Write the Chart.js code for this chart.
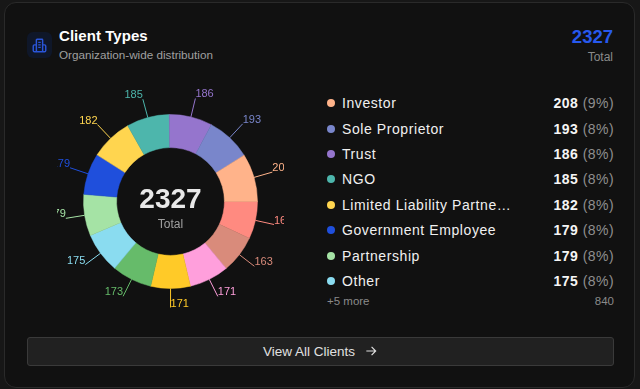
<!DOCTYPE html>
<html>
<head>
<meta charset="utf-8">
<title>Client Types</title>
<script src="https://cdn.jsdelivr.net/npm/chart.js@4"></script>
<style>
  html, body { margin: 0; width: 640px; height: 389px; overflow: hidden; background: #171717; font-family: "Liberation Sans", Arial, sans-serif; }
  .card { position: absolute; left: 4px; top: 2px; width: 629px; height: 384px; background: #111; border: 1px solid #2a2a2a; border-radius: 12px; }
  .icon { position: absolute; left: 27px; top: 32px; width: 25px; height: 26px; background: #0f1729; border-radius: 6px; }
  .icon svg { position: absolute; left: 5px; top: 6px; }
  .title { position: absolute; left: 59px; top: 27px; font-size: 15px; font-weight: bold; color: #fff; letter-spacing: 0.05px; }
  .subtitle { position: absolute; left: 59px; top: 48px; font-size: 11.7px; color: #a0a0a0; }
  .total { position: absolute; right: 27px; top: 26px; font-size: 18.5px; font-weight: bold; color: #2759ee; }
  .total-label { position: absolute; right: 27px; top: 50px; font-size: 12px; color: #8a8a8a; }
  .chart-wrap { position: absolute; left: 57px; top: 88px; width: 227px; height: 227px; }
  .center { position: absolute; left: 57px; width: 227px; text-align: center; }
  .center-value { top: 183px; font-size: 28px; font-weight: bold; color: #e8e8e8; }
  .center-label { top: 217px; font-size: 12px; color: #a0a0a0; }
  .row { position: absolute; left: 327px; width: 287px; height: 20px; line-height: 20px; font-size: 14px; color: #f0f0f0; letter-spacing: 0.58px; }
  .dot { position: absolute; left: 0; top: 6px; width: 8px; height: 8px; border-radius: 50%; }
  .name { position: absolute; left: 15px; }
  .val { position: absolute; right: 0; color: #8f8f8f; letter-spacing: 0.45px; }
  .val b { color: #f5f5f5; }
  .more { position: absolute; left: 327px; width: 287px; top: 295px; font-size: 11.5px; color: #8a8a8a; display: flex; justify-content: space-between; }
  .btn { position: absolute; left: 27px; top: 337px; width: 585px; height: 27px; line-height: 27px; background: #212121; border: 1px solid #3a3a3a; border-radius: 3px; color: #e0e0e0; font-size: 13.5px; text-align: center; }
  .btn svg { vertical-align: -2px; margin-left: 9px; }
</style>
</head>
<body>
<div class="card"></div>
<div class="icon"><svg width="15" height="15" viewBox="0 0 24 24" fill="none" stroke="#2a55d8" stroke-width="2.3"><rect x="7" y="2" width="10" height="20" rx="1"/><path d="M7 11H4a2 2 0 0 0-2 2v7a2 2 0 0 0 2 2h3M17 11h3a2 2 0 0 1 2 2v7a2 2 0 0 1-2 2h-3M10 7h4M10 11h4M10 15h4"/></svg></div>
<div class="title">Client Types</div>
<div class="subtitle">Organization-wide distribution</div>
<div class="total">2327</div>
<div class="total-label">Total</div>
<div class="chart-wrap"><canvas id="typesChart" width="227" height="227"></canvas></div>
<div class="center center-value">2327</div>
<div class="center center-label">Total</div>
<div id="legend"></div>
<div class="more"><span>+5 more</span><span>840</span></div>
<div class="btn">View All Clients<svg width="14" height="14" viewBox="0 0 24 24" fill="none" stroke="#e0e0e0" stroke-width="2"><path d="M4 12h16M13 5l7 7-7 7"/></svg></div>
<script>
  // slices in drawing order, clockwise from 3 o'clock
  const sliceValues = [162, 163, 171, 171, 173, 175, 179, 179, 182, 185, 186, 193, 208];
  const sliceColors = ["#ff8a80", "#d98b7b", "#ff9fdc", "#ffca28", "#66bb6a", "#8adcf0", "#a5e3a5", "#1f4fdc", "#ffd54f", "#4db6ac", "#9575cd", "#7986cb", "#ffb38a"];

  const legendNames = ["Investor", "Sole Proprietor", "Trust", "NGO", "Limited Liability Partne…", "Government Employee", "Partnership", "Other"];
  const legendValues = [208, 193, 186, 185, 182, 179, 179, 175];
  const legendPercents = [9, 8, 8, 8, 8, 8, 8, 8];
  const legendColors = ["#ffb38a", "#7986cb", "#9575cd", "#4db6ac", "#ffd54f", "#1f4fdc", "#a5e3a5", "#8adcf0"];
  const legendTops = [93, 119, 144, 169, 195, 220, 246, 271];

  // Legend rows
  const legend = document.getElementById("legend");
  legendNames.forEach((name, i) => {
    const row = document.createElement("div");
    row.className = "row";
    row.style.top = legendTops[i] + "px";
    row.innerHTML = '<span class="dot" style="background:' + legendColors[i] + '"></span>' +
      '<span class="name">' + name + '</span>' +
      '<span class="val"><b>' + legendValues[i] + '</b> (' + legendPercents[i] + '%)</span>';
    legend.appendChild(row);
  });

  // Leader lines and value labels outside the ring
  const leaderLabels = {
    id: "leaderLabels",
    afterDatasetsDraw(chart) {
      const ctx = chart.ctx;
      const arcs = chart.getDatasetMeta(0).data;
      ctx.save();
      ctx.font = '11px "Liberation Sans", Arial, sans-serif';
      ctx.textBaseline = "middle";
      arcs.forEach((arc, i) => {
        const p = arc.getProps(["x", "y", "startAngle", "endAngle", "outerRadius"], true);
        const mid = (p.startAngle + p.endAngle) / 2;
        const cos = Math.cos(mid), sin = Math.sin(mid);
        const x1 = p.x + cos * p.outerRadius, y1 = p.y + sin * p.outerRadius;
        const x2 = p.x + cos * (p.outerRadius + 19), y2 = p.y + sin * (p.outerRadius + 19);
        ctx.strokeStyle = sliceColors[i];
        ctx.lineWidth = 1;
        ctx.beginPath();
        ctx.moveTo(x1, y1);
        ctx.lineTo(x2, y2);
        ctx.stroke();
        ctx.fillStyle = sliceColors[i];
        ctx.textAlign = cos >= 0 ? "left" : "right";
        ctx.fillText(sliceValues[i], x2, y2 - 4);
      });
      ctx.restore();
    }
  };

  new Chart(document.getElementById("typesChart"), {
    type: "doughnut",
    data: {
      labels: sliceValues.map(String),
      datasets: [{
        data: sliceValues,
        backgroundColor: sliceColors,
        borderColor: sliceColors,
        borderWidth: 0.5
      }]
    },
    options: {
      responsive: false,
      animation: false,
      rotation: 90,
      radius: 87,
      cutout: "62%",
      layout: { padding: 0 },
      plugins: { legend: { display: false }, tooltip: { enabled: false } }
    },
    plugins: [leaderLabels]
  });
</script>
</body>
</html>
